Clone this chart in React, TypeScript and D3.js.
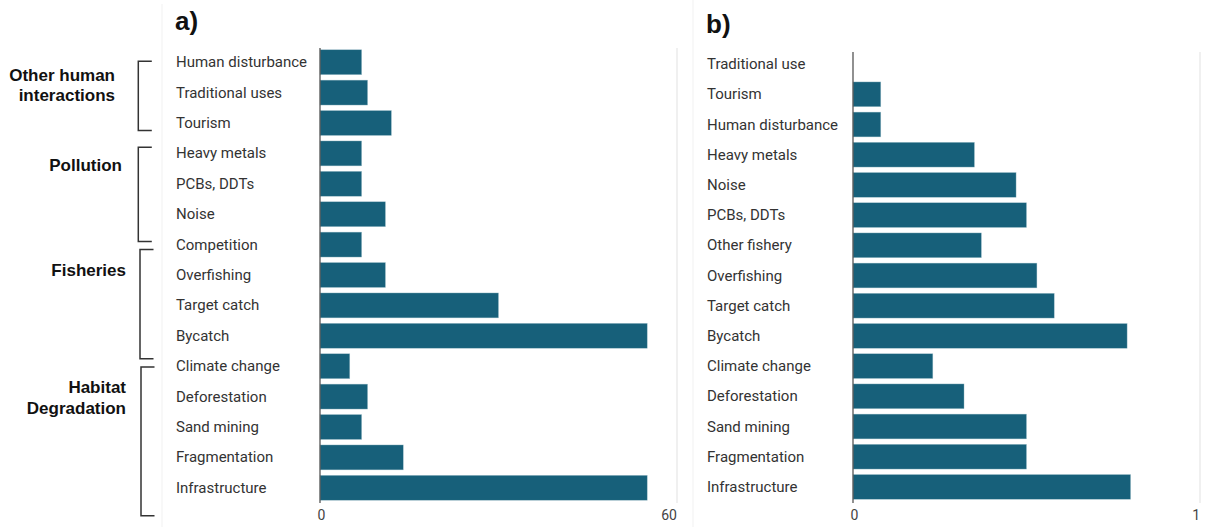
import React from "react";
import * as d3 from "d3";

// Panel a: number of studies per threat
const catsA = [
  "Human disturbance", "Traditional uses", "Tourism", "Heavy metals", "PCBs, DDTs",
  "Noise", "Competition", "Overfishing", "Target catch", "Bycatch",
  "Climate change", "Deforestation", "Sand mining", "Fragmentation", "Infrastructure",
];
const valsA = [7, 8, 12, 7, 7, 11, 7, 11, 30, 55, 5, 8, 7, 14, 55];
const ticksA = [0, 60];

// Panel b: relative threat score
const catsB = [
  "Traditional use", "Tourism", "Human disturbance", "Heavy metals", "Noise",
  "PCBs, DDTs", "Other fishery", "Overfishing", "Target catch", "Bycatch",
  "Climate change", "Deforestation", "Sand mining", "Fragmentation", "Infrastructure",
];
const valsB = [0, 0.08, 0.08, 0.35, 0.47, 0.5, 0.37, 0.53, 0.58, 0.79, 0.23, 0.32, 0.5, 0.5, 0.8];
const ticksB = [0, 1];

// Threat groups for panel a (row spans in band units)
const groupNames = [["Other human", "interactions"], ["Pollution"], ["Fisheries"], ["Habitat", "Degradation"]];
const groupSpans: [number, number][] = [[0.56, 2.82], [3.37, 6.44], [6.7, 10.26], [10.53, 15.38]];

const BAR = "#17607a";
const FONT = "Roboto, 'Noto Sans', sans-serif";
const HEAD = "'Liberation Sans', Arial, sans-serif";

type PanelProps = {
  cats: string[];
  vals: number[];
  ticks: number[];
  x0: number;
  x1: number;
  yRange: [number, number];
  labelX: number;
  title: string;
  titleX: number;
  titleY: number;
  axisTop: number;
};

function Panel({ cats, vals, ticks, x0, x1, yRange, labelX, title, titleX, titleY, axisTop }: PanelProps) {
  const y = d3.scaleBand<string>().domain(cats).range(yRange).paddingInner(0.18).paddingOuter(0.09);
  const x = d3.scaleLinear().domain([ticks[0], ticks[ticks.length - 1]]).range([x0, x1]);
  const bottom = 503;
  return (
    <g>
      <text x={titleX} y={titleY} fontSize={26} fontWeight="bold" fill="#111" fontFamily={HEAD}>
        {title}
      </text>
      <line x1={x(ticks[ticks.length - 1])} x2={x(ticks[ticks.length - 1])} y1={axisTop} y2={bottom} stroke="#e6e6e6" strokeWidth={1.2} />
      {cats.map((c, i) => (
        <g key={c}>
          <text
            x={labelX}
            y={(y(c) as number) + y.bandwidth() / 2}
            dominantBaseline="central"
            fontSize={15}
            fill="#333"
            fontFamily={FONT}
          >
            {c}
          </text>
          <rect
            x={x(0)}
            y={y(c) as number}
            width={Math.max(0, x(vals[i]) - x(0))}
            height={y.bandwidth()}
            fill={BAR}
            stroke="#a9c6d0"
            strokeWidth={0.6}
            strokeOpacity={0.6}
          />
        </g>
      ))}
      <line x1={x(0)} x2={x(0)} y1={axisTop} y2={bottom} stroke="#555" strokeWidth={1.3} />
      {ticks.map((t, i) => (
        <text
          key={t}
          x={i === ticks.length - 1 ? x(t) : x(t) + 1.5}
          y={520}
          textAnchor={i === ticks.length - 1 ? "end" : "middle"}
          fontSize={14}
          fill="#444"
          fontFamily={FONT}
        >
          {t}
        </text>
      ))}
    </g>
  );
}

export default function App() {
  const row = d3.scaleLinear().domain([0, 15]).range([44, 504]);
  const labelYs = [[81, 101], [171], [276], [393, 414]];
  const labelRight = [115, 122, 126, 126];
  const bracketX = [138.3, 138.3, 140, 141];
  return (
    <div style={{ position: "absolute", left: 0, top: 0 }}>
      <svg width={1224} height={527} style={{ display: "block", background: "#fff" }}>
        <rect width={1224} height={527} fill="#fff" />
        <line x1={162} x2={162} y1={4} y2={527} stroke="#f1f1f1" strokeWidth={1} />
        <line x1={693} x2={693} y1={0} y2={527} stroke="#f1f1f1" strokeWidth={1} />
        <Panel
          cats={catsA}
          vals={valsA}
          ticks={ticksA}
          x0={320}
          x1={677}
          yRange={[47, 503]}
          labelX={176}
          title="a)"
          titleX={175}
          titleY={30}
          axisTop={48}
        />
        <Panel
          cats={catsB}
          vals={valsB}
          ticks={ticksB}
          x0={853}
          x1={1200}
          yRange={[49, 502]}
          labelX={707}
          title="b)"
          titleX={706}
          titleY={33}
          axisTop={52}
        />
        {groupNames.map((lines, gi) => {
          const [a, b] = groupSpans[gi];
          const top = row(a);
          const bot = row(b);
          const bx = bracketX[gi];
          return (
            <g key={gi}>
              <path
                d={`M${bx + 13.5},${top} H${bx} V${bot} H${bx + 13.5}`}
                fill="none"
                stroke="#333"
                strokeWidth={1.5}
              />
              {lines.map((ln, li) => (
                <text
                  key={li}
                  x={labelRight[gi]}
                  y={labelYs[gi][li]}
                  textAnchor="end"
                  fontSize={17}
                  fontWeight="bold"
                  fill="#111"
                  fontFamily={HEAD}
                >
                  {ln}
                </text>
              ))}
            </g>
          );
        })}
      </svg>
    </div>
  );
}
